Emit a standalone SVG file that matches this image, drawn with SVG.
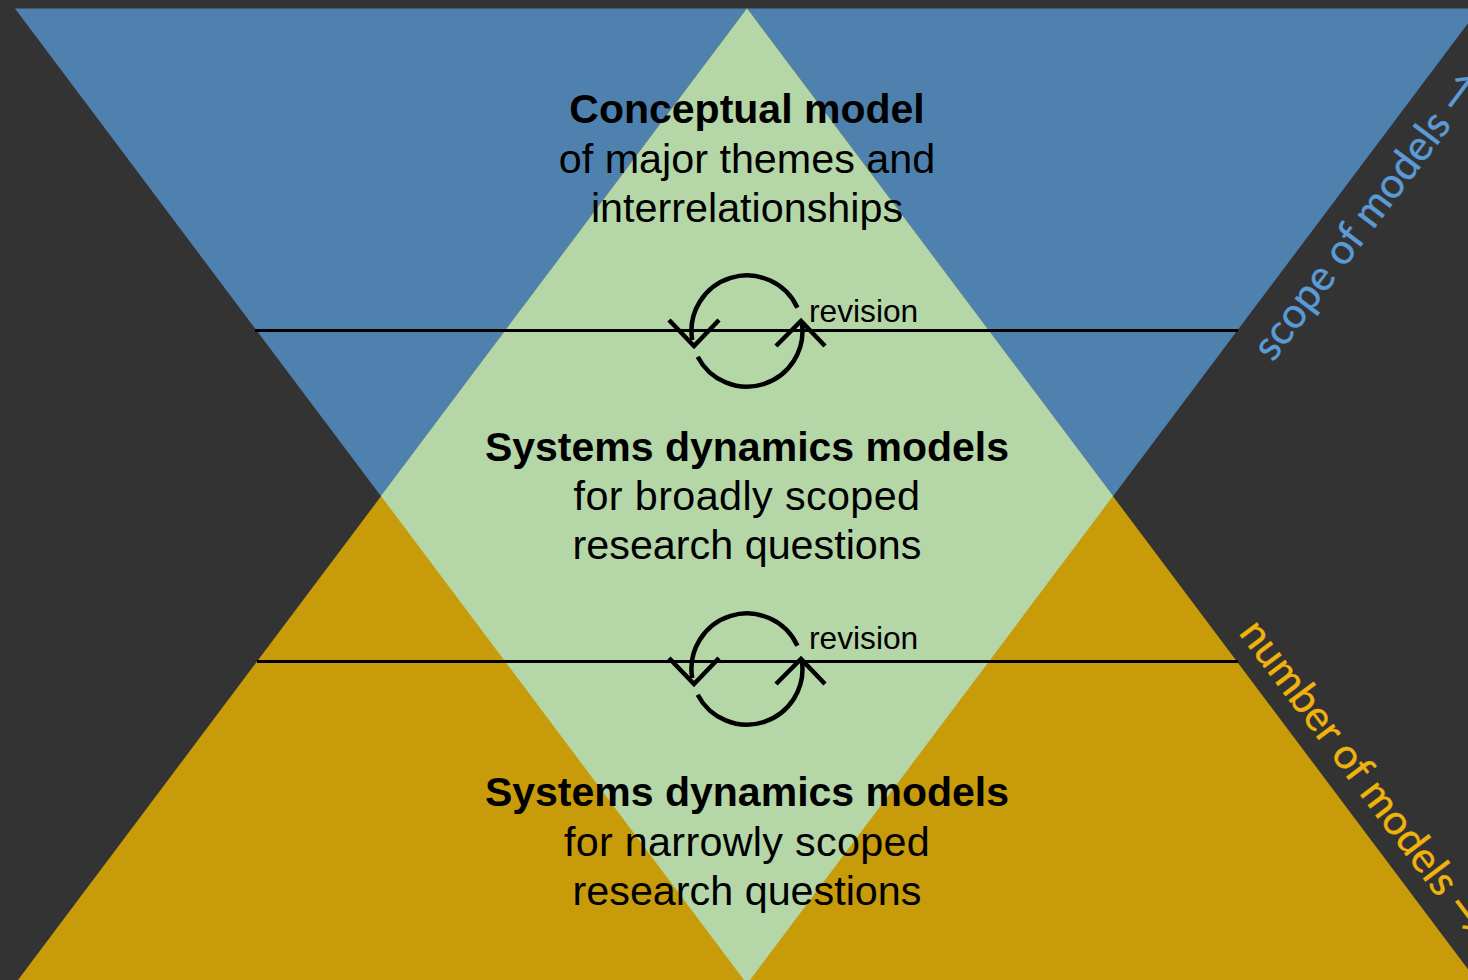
<svg xmlns="http://www.w3.org/2000/svg" width="1468" height="980" viewBox="0 0 1468 980">
<style>
.t{font-family:"Liberation Sans",Arial,sans-serif;font-size:41.300px;fill:#000;text-anchor:middle}
.b{font-weight:700;font-size:41px}
.r{font-family:"Liberation Sans",Arial,sans-serif;font-size:31.700px;fill:#000}
.d{font-family:Lato,"Open Sans",sans-serif;font-size:42px;stroke-width:.4}
.l{fill:none;stroke:#000;stroke-width:3}
.c{fill:none;stroke:#000;stroke-width:4.500}
</style>
<defs>
<g id="cycle">
<path class="c" d="M797.400 307.800A55.500 55.500 0 0 0 692.200 340"/>
<path class="c" d="M697.700 356.700A55.500 55.500 0 0 0 802 324"/>
<path class="c" d="M669 320L694 346L719 320"/>
<path class="c" d="M776 346L801 321L825 346"/>
</g>
</defs>
<rect id="background" width="1468" height="980" fill="#333"/>
<g id="scope-triangle"><polygon points="15,8.500 1479,8.500 747,984" fill="#4f81ae"/></g>
<g id="number-triangle"><polygon points="747,8.500 1479,984 15,984" fill="#c79b0a"/></g>
<g id="overlap-diamond"><polygon points="747,8.500 1113,496 747,984 381,496" fill="#b5d6a7"/></g>
<g id="connectors">
<line class="l" x1="255" y1="330.500" x2="1238" y2="330.500"/>
<line class="l" x1="257" y1="661.500" x2="1238" y2="661.500"/>
<use href="#cycle"/>
<use href="#cycle" y="338"/>
</g>
<g id="conceptual-model">
<text class="t b" x="747" y="122.500">Conceptual model</text>
<text class="t" x="747" y="172.500">of major themes and</text>
<text class="t" x="747" y="221.500">interrelationships</text>
</g>
<g id="broad-models">
<text class="t b" x="747" y="460.500">Systems dynamics models</text>
<text class="t" x="747" y="509.500" letter-spacing=".4">for broadly scoped</text>
<text class="t" x="747" y="558.500">research questions</text>
</g>
<g id="narrow-models">
<text class="t b" x="747" y="805.500">Systems dynamics models</text>
<text class="t" x="747" y="855.500" letter-spacing=".3">for narrowly scoped</text>
<text class="t" x="747" y="904.500">research questions</text>
</g>
<g id="revision-labels">
<text class="r" x="809" y="321.500">revision</text>
<text class="r" x="809" y="648.500">revision</text>
</g>
<g id="axis-labels">
<text class="d" fill="#5b9bd5" stroke="#5b9bd5" transform="translate(1273 363) rotate(-53)">scope of models →</text>
<text class="d" fill="#f0b30e" stroke="#f0b30e" transform="translate(1238 633) rotate(53)">number of models →</text>
</g>
</svg>
